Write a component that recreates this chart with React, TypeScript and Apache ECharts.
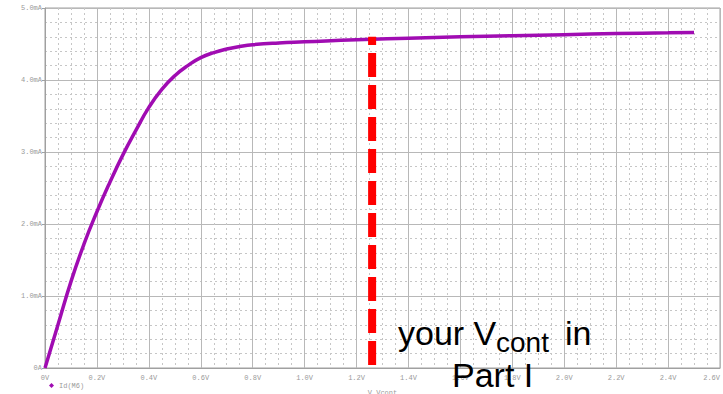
import React, { useEffect, useRef } from "react";
import * as echarts from "echarts";

const vValues = [0, 0.05, 0.1, 0.15, 0.2, 0.25, 0.3, 0.35, 0.4, 0.45, 0.5, 0.55, 0.6, 0.65, 0.7, 0.75, 0.8, 0.9, 1.0, 1.2, 1.4, 1.6, 1.8, 2.0, 2.2, 2.4, 2.5];
const idValues = [0, 0.6, 1.2, 1.72, 2.17, 2.58, 2.96, 3.3, 3.62, 3.87, 4.06, 4.2, 4.31, 4.38, 4.43, 4.465, 4.49, 4.515, 4.53, 4.56, 4.58, 4.6, 4.615, 4.63, 4.645, 4.655, 4.66];
const vcontMarker = [[1.26, 0.04], [1.26, 4.6]];
const seriesName = "Id(M6)";
const xAxisName = "V_Vcont";

const GRAY = "#9a9a9a";

export default function App() {
  const ref = useRef<HTMLDivElement>(null);
  useEffect(() => {
    if (!ref.current) return;
    const chart = echarts.init(ref.current, null, { renderer: "svg" });
    const labelFont = { fontFamily: "Liberation Mono", fontSize: 7, color: GRAY };
    chart.setOption({
      animation: false,
      backgroundColor: "#ffffff",
      grid: {
        left: 45, right: 3, top: 8, bottom: 26,
        containLabel: false, outerBoundsMode: "none",
        show: true, borderColor: "#a0a0a0", borderWidth: 1,
      },
      legend: {
        data: [{ name: seriesName, icon: "diamond" }],
        left: 44,
        top: 377,
        itemWidth: 5,
        itemHeight: 5,
        itemGap: 4,
        textStyle: { ...labelFont, padding: [0, 0, 0, 0] },
      },
      xAxis: {
        type: "value",
        min: 0,
        max: 2.6,
        interval: 0.2,
        name: xAxisName,
        nameLocation: "middle",
        nameGap: 21,
        nameTextStyle: labelFont,
        axisLine: { lineStyle: { color: "#a0a0a0" } },
        axisTick: { show: false },
        axisLabel: { ...labelFont, margin: 6, alignMaxLabel: "right", formatter: (v: number) => (v === 0 ? "0V" : v.toFixed(1) + "V") },
        splitLine: { show: true, lineStyle: { color: "#b8b8b8", width: 1 } },
        minorTick: { show: false, splitNumber: 4 },
        minorSplitLine: { show: true, lineStyle: { color: "#c6c6c6", type: [2, 3], width: 1 } },
      },
      yAxis: {
        type: "value",
        min: 0,
        max: 5,
        interval: 1,
        axisLine: { show: true, lineStyle: { color: "#a0a0a0" } },
        axisTick: { show: true, length: 3, inside: false, lineStyle: { color: "#a0a0a0" } },
        axisLabel: { ...labelFont, margin: 3, formatter: (v: number) => (v === 0 ? "0A" : v.toFixed(1) + "mA") },
        splitLine: { show: true, lineStyle: { color: "#b8b8b8", width: 1 } },
        minorTick: { show: false, splitNumber: 5 },
        minorSplitLine: { show: true, lineStyle: { color: "#c6c6c6", type: [2, 3], width: 1 } },
      },
      series: [
        {
          name: seriesName,
          type: "line",
          data: vValues.map((v, i) => [v, idValues[i]]),
          showSymbol: false,
          smooth: 0.5,
          lineStyle: { color: "#a00cb2", width: 3.5 },
          itemStyle: { color: "#a00cb2" },
          z: 3,
        },
        {
          name: "vcont",
          type: "line",
          data: vcontMarker,
          showSymbol: false,
          lineStyle: { color: "#ff0000", width: 8, type: [24, 8], cap: "butt" },
          z: 4,
        },
      ],
      graphic: [
        { type: "text", x: 398, y: 333, z: 10, style: { text: "your V", fontFamily: "Liberation Sans", fontSize: 34, fill: "#000", verticalAlign: "middle" } },
        { type: "text", x: 496, y: 342, z: 10, style: { text: "cont", fontFamily: "Liberation Sans", fontSize: 28, fill: "#000", verticalAlign: "middle" } },
        { type: "text", x: 565, y: 333, z: 10, style: { text: "in", fontFamily: "Liberation Sans", fontSize: 34, fill: "#000", verticalAlign: "middle" } },
        { type: "text", x: 452, y: 375, z: 10, style: { text: "Part I", fontFamily: "Liberation Sans", fontSize: 34, fill: "#000", verticalAlign: "middle" } },
      ],
    });
    return () => chart.dispose();
  }, []);
  return <div ref={ref} style={{ position: "fixed", left: 0, top: 0, width: 723, height: 394, background: "#fff" }} />;
}
